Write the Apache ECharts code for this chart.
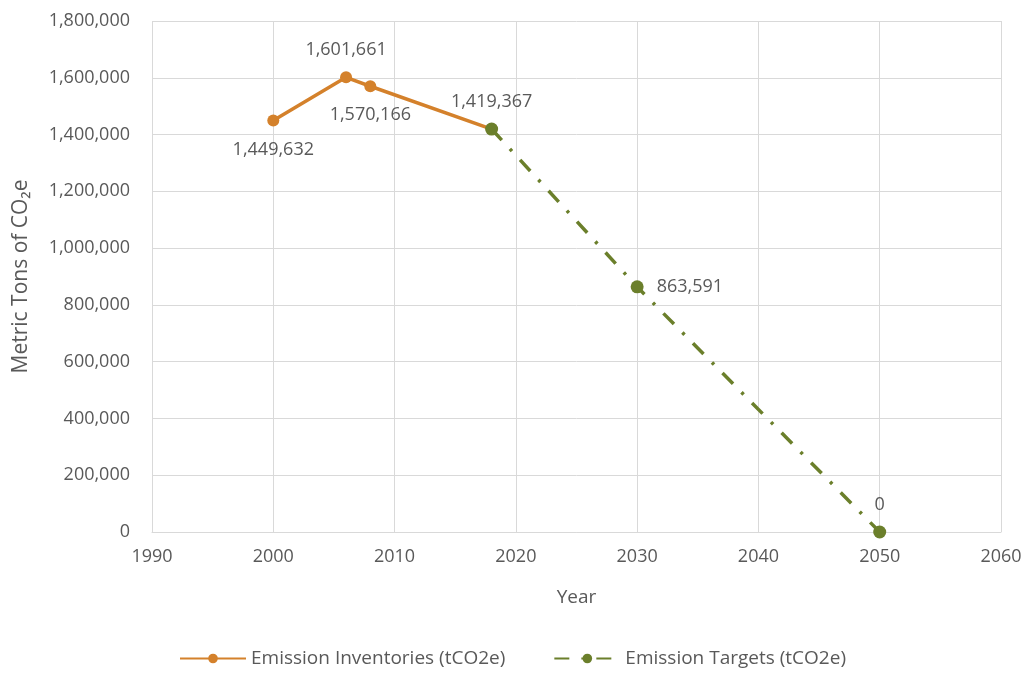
<!DOCTYPE html>
<html><head><meta charset="utf-8">
<script src="https://cdn.jsdelivr.net/npm/echarts@6/dist/echarts.min.js"></script>
<style>html,body{margin:0;padding:0;background:#fff}#c{width:1025px;height:675px}</style>
</head><body><div id="c"></div>
<script>
const inventoryYears = [2000, 2006, 2008, 2018];
const inventoryValues = [1449632, 1601661, 1570166, 1419367];
const targetYears = [2018, 2030, 2050];
const targetValues = [1419367, 863591, 0];
const inventoryLabelPos = ['bottom', 'top', 'bottom', 'none'];
const targetLabelPos = ['top', 'right', 'top'];
const seriesNames = ['Emission Inventories (tCO2e)', 'Emission Targets (tCO2e)'];

const txt = '#595959';
const font = 'Open Sans';
const fmt = v => v.toLocaleString('en-US');

function mk(years, vals, pos) {
  return years.map((y, i) => {
    const item = { value: [y, vals[i]] };
    if (pos[i] === 'none') item.label = { show: false };
    else {
      const p = pos[i];
      item.label = { show: true, position: p, distance: p === 'bottom' ? 14 : (p === 'right' ? 13 : 12) };
    }
    return item;
  });
}

const chart = echarts.init(document.getElementById('c'));
chart.setOption({
  animation: false,
  textStyle: { fontFamily: font },
  grid: { left: 152, right: 24, top: 21, bottom: 143, containLabel: false, outerBoundsMode: 'none' },
  xAxis: {
    type: 'value', min: 1990, max: 2060, interval: 10,
    name: 'Year', nameLocation: 'middle', nameGap: 56,
    nameTextStyle: { color: txt, fontSize: 19, fontFamily: font },
    axisLine: { show: true, lineStyle: { color: '#d9d9d9' } },
    axisTick: { show: false },
    axisLabel: { color: txt, fontSize: 18, margin: 16, formatter: v => String(v) },
    splitLine: { show: true, lineStyle: { color: '#d9d9d9', width: 1 } }
  },
  yAxis: {
    type: 'value', min: 0, max: 1800000, interval: 200000,
    name: 'Metric Tons of CO\u2082e', nameLocation: 'middle', nameGap: 120,
    nameTextStyle: { color: txt, fontSize: 21, fontFamily: font },
    axisLine: { show: false },
    axisTick: { show: false },
    axisLabel: { color: txt, fontSize: 18, margin: 22, formatter: v => fmt(v) },
    splitLine: { show: true, lineStyle: { color: '#d9d9d9', width: 1 } }
  },
  legend: {
    bottom: 2, left: 'center', itemGap: 48, itemWidth: 66, itemHeight: 12,
    textStyle: { color: txt, fontSize: 19, fontFamily: font },
    data: seriesNames
  },
  series: [
    {
      name: seriesNames[0], type: 'line', z: 3,
      data: mk(inventoryYears, inventoryValues, inventoryLabelPos),
      symbol: 'circle', symbolSize: 12,
      itemStyle: { color: '#D4812B' },
      lineStyle: { color: '#D4812B', width: 3.5 },
      label: { color: txt, fontSize: 18, formatter: p => fmt(p.value[1]) }
    },
    {
      name: seriesNames[1], type: 'line', z: 4,
      data: mk(targetYears, targetValues, targetLabelPos),
      symbol: 'circle', symbolSize: 13,
      itemStyle: { color: '#6B7F2B' },
      lineStyle: { color: '#6B7F2B', width: 3.5, type: [15, 12, 3, 12] },
      label: { color: txt, fontSize: 18, formatter: p => fmt(p.value[1]) }
    }
  ]
});
</script></body></html>
